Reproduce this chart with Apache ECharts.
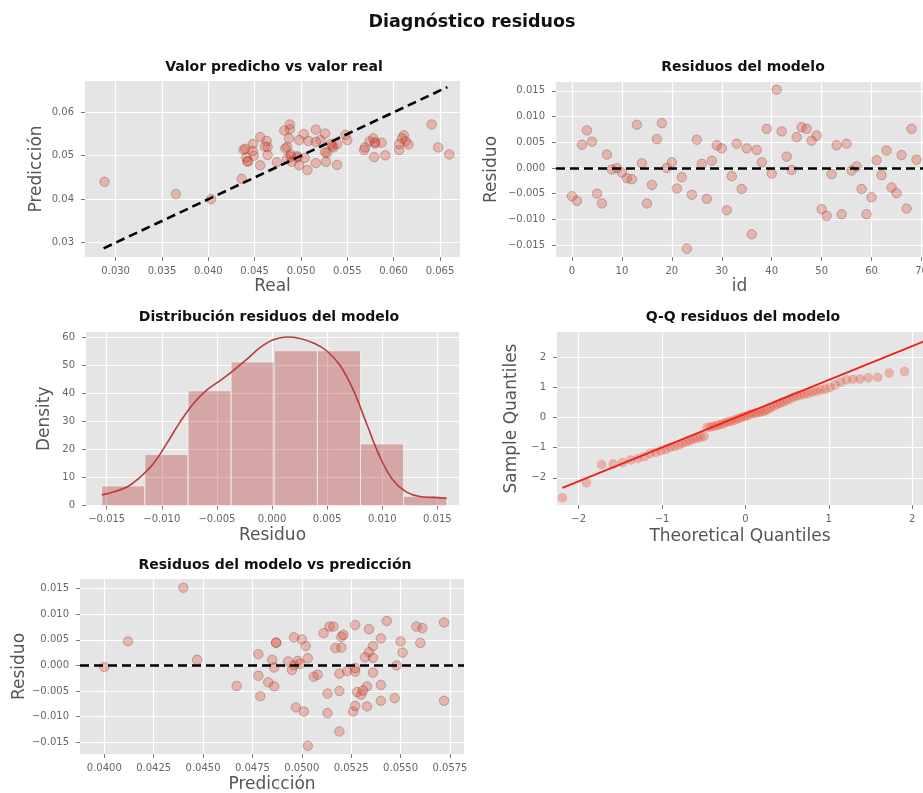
<!DOCTYPE html>
<html><head><meta charset="utf-8">
<script src="https://cdn.jsdelivr.net/npm/echarts@6/dist/echarts.min.js"></script>
<style>html,body{margin:0;padding:0;background:#fff}#c{width:923px;height:793px}</style>
</head><body><div id="c"></div>
<script>
// ---- data ----
const prediccion = [0.0513,0.0547,0.0487,0.0561,0.0500,0.0519,0.0540,0.0534,0.0400,0.0496,
 0.0495,0.0478,0.0506,0.0572,0.0498,0.0572,0.0483,0.0520,0.0543,0.0548,
 0.0447,0.0467,0.0508,0.0503,0.0528,0.0496,0.0493,0.0479,0.0503,0.0487,
 0.0502,0.0497,0.0519,0.0550,0.0486,0.0536,0.0519,0.0520,0.0485,0.0514,
 0.0523,0.0440,0.0534,0.0478,0.0486,0.0521,0.0527,0.0516,0.0540,0.0511,
 0.0533,0.0513,0.0527,0.0560,0.0526,0.0412,0.0527,0.0499,0.0533,0.0501,
 0.0530,0.0536,0.0536,0.0517,0.0540,0.0531,0.0551,0.0527,0.0558,0.0532];
const residuo = [-0.0055,-0.0064,0.0045,0.0073,0.0051,-0.0050,-0.0069,0.0026,-0.0003,0.0000,
 -0.0009,-0.0020,-0.0022,0.0084,0.0009,-0.0069,-0.0033,0.0056,0.0087,0.0000,
 0.0011,-0.0040,-0.0018,-0.0157,-0.0052,0.0055,0.0008,-0.0060,0.0014,0.0044,
 0.0038,-0.0082,-0.0016,0.0047,-0.0041,0.0038,-0.0129,0.0035,0.0011,0.0076,
 -0.0011,0.0152,0.0071,0.0022,-0.0004,0.0060,0.0079,0.0076,0.0053,0.0063,
 -0.0080,-0.0093,-0.0012,0.0044,-0.0090,0.0047,-0.0005,0.0003,-0.0041,-0.0090,
 -0.0057,0.0015,-0.0014,0.0034,-0.0038,-0.0049,0.0025,-0.0079,0.0076,0.0016];
const real = [0.0568,0.0611,0.0442,0.0488,0.0449,0.0569,0.0609,0.0508,0.0403,0.0496,
 0.0504,0.0498,0.0528,0.0488,0.0489,0.0641,0.0516,0.0464,0.0456,0.0548,
 0.0436,0.0507,0.0526,0.0660,0.0580,0.0441,0.0485,0.0539,0.0489,0.0443,
 0.0464,0.0579,0.0535,0.0503,0.0527,0.0498,0.0648,0.0485,0.0474,0.0438,
 0.0534,0.0288,0.0463,0.0456,0.0490,0.0461,0.0448,0.0440,0.0487,0.0448,
 0.0613,0.0606,0.0539,0.0516,0.0616,0.0365,0.0532,0.0496,0.0574,0.0591,
 0.0587,0.0521,0.0550,0.0483,0.0578,0.0580,0.0526,0.0606,0.0482,0.0516];
const identidad = [0.0287, 0.0658];

const histBordes = [-0.01545,-0.01154,-0.00762,-0.00371,0.00020,0.00412,0.00803,0.01194,0.01586];
const histDensidad = [7.0,18.2,41.0,51.3,55.3,55.3,22.0,3.3];
const kdeX = [-0.01545,-0.0144,-0.01318,-0.01198,-0.01077,-0.00956,-0.00835,-0.00714,-0.00593,-0.00472,-0.00351,-0.0023,-0.00109,0.00012,0.00133,0.00254,0.00375,0.00496,0.00617,0.00738,0.00859,0.0098,0.01101,0.01222,0.01343,0.01463,0.01585];
const kdeY = [3.8,4.8,6.6,10.1,14.9,22.1,29.8,36.4,41.2,44.6,48.2,52.2,56.4,59.2,60.2,59.7,58.1,55.3,50.1,41.2,29.2,17.3,8.9,4.8,3.2,2.9,2.6];

const qqTeorico = [-2.195,-1.908,-1.725,-1.586,-1.473,-1.375,-1.290,-1.212,-1.142,-1.077,
 -1.016,-0.958,-0.904,-0.852,-0.802,-0.754,-0.708,-0.663,-0.620,-0.578,
 -0.537,-0.496,-0.457,-0.418,-0.380,-0.342,-0.305,-0.268,-0.232,-0.195,
 -0.160,-0.124,-0.088,-0.053,-0.018,0.018,0.053,0.088,0.124,0.160,
 0.195,0.232,0.268,0.305,0.342,0.380,0.418,0.457,0.496,0.537,
 0.578,0.620,0.663,0.708,0.754,0.802,0.852,0.904,0.958,1.016,
 1.077,1.142,1.212,1.290,1.375,1.473,1.586,1.725,1.908,2.195];
const qqMuestra = [-2.66,-2.16,-1.56,-1.54,-1.49,-1.41,-1.36,-1.30,-1.19,-1.15,
 -1.10,-1.05,-0.99,-0.95,-0.91,-0.86,-0.81,-0.77,-0.71,-0.68,
 -0.65,-0.62,-0.33,-0.31,-0.29,-0.27,-0.23,-0.21,-0.16,-0.13,
 -0.11,-0.08,-0.04,0.00,0.03,0.06,0.10,0.13,0.15,0.17,
 0.19,0.22,0.27,0.33,0.38,0.44,0.48,0.52,0.57,0.62,
 0.68,0.72,0.75,0.78,0.80,0.85,0.88,0.92,0.95,1.00,
 1.08,1.18,1.25,1.27,1.28,1.32,1.34,1.48,1.53,1.60];
const qqLineaX = [-2.195, 2.195];
const qqLineaY = [-2.33, 2.59];

// tick values
const ticksP1x = [0.030,0.035,0.040,0.045,0.050,0.055,0.060,0.065];
const ticksP1y = [0.03,0.04,0.05,0.06];
const ticksP2x = [0,10,20,30,40,50,60,70];
const ticksRes = [-0.015,-0.010,-0.005,0,0.005,0.010,0.015];
const ticksP3y = [0,10,20,30,40,50,60];
const ticksQQ = [-2,-1,0,1,2];
const ticksP5x = [0.0400,0.0425,0.0450,0.0475,0.0500,0.0525,0.0550,0.0575];

// ---- chart ----
const F = 'DejaVu Sans';
function fmt(v, d){ if (Math.abs(v) < 1e-12) v = 0; return v.toFixed(d).replace('-', '\u2212'); }
function ax(gi, min, max, ticks, dec, name, gap, isY){
  return {
    type:'value', gridIndex:gi, min:min, max:max,
    name:name, nameLocation:'middle', nameGap:gap,
    nameTextStyle:{fontSize:17, color:'#555', fontFamily:F},
    axisLine:{show:false, onZero:false},
    axisTick:{show:true, customValues:ticks, length:4, lineStyle:{color:'#777', width:1}},
    axisLabel:{customValues:ticks, formatter:v=>fmt(v,dec), fontSize:10, color:'#666', margin:isY?11:9, fontFamily:F},
    splitLine:{show:true, lineStyle:{color:'#ffffff', width:1.2}}
  };
}
const ptStyle = {color:'rgba(226,74,51,0.4)', borderColor:'rgba(70,20,10,0.4)', borderWidth:0.8};
const dash = {color:'#000', width:2.6, type:[9,5]};

const grids = [
  {left:85, top:81, width:375, height:176},
  {left:556, top:82, width:367, height:175},
  {left:86, top:332, width:373, height:173.5},
  {left:557, top:332, width:366, height:173},
  {left:80, top:579, width:384, height:175}
];
const xAxes = [
  ax(0, 0.02669, 0.06716, ticksP1x, 3, 'Real', 21),
  ax(1, -3.2, 70.3, ticksP2x, 0, 'id', 21),
  ax(2, -0.01688, 0.01697, ticksRes, 3, 'Residuo', 22),
  ax(3, -2.26, 2.13, ticksQQ, 0, 'Theoretical Quantiles', 23),
  ax(4, 0.03877, 0.05821, ticksP5x, 4, 'Predicción', 22)
];
const yAxes = [
  ax(0, 0.0267, 0.0672, ticksP1y, 2, 'Predicción', 40, true),
  ax(1, -0.0173, 0.0167, ticksRes, 3, 'Residuo', 56, true),
  ax(2, 0, 62.0, ticksP3y, 0, 'Density', 33, true),
  ax(3, -2.90, 2.84, ticksQQ, 0, 'Sample Quantiles', 37, true),
  ax(4, -0.0173, 0.0169, ticksRes, 3, 'Residuo', 50, true)
];

const zeroLine = {silent:true, symbol:'none', label:{show:false}, lineStyle:dash, data:[{yAxis:0}]};

const series = [
  {type:'scatter', xAxisIndex:0, yAxisIndex:0, symbolSize:9.5, itemStyle:ptStyle,
   data: real.map((r,i)=>[r, prediccion[i]])},
  {type:'line', xAxisIndex:0, yAxisIndex:0, symbol:'none', lineStyle:dash,
   data: [[identidad[0], identidad[0]], [identidad[1], identidad[1]]]},
  {type:'scatter', xAxisIndex:1, yAxisIndex:1, symbolSize:9.5, itemStyle:ptStyle,
   data: residuo.map((r,i)=>[i, r]), markLine: zeroLine},
  {type:'custom', xAxisIndex:2, yAxisIndex:2,
   data: histDensidad.map((d,i)=>[histBordes[i], histBordes[i+1], d]),
   renderItem: function(params, api){
     const p0 = api.coord([api.value(0), 0]);
     const p1 = api.coord([api.value(1), api.value(2)]);
     return {type:'rect', shape:{x:p0[0], y:p1[1], width:p1[0]-p0[0], height:p0[1]-p1[1]},
       style:{fill:'rgba(178,34,34,0.32)', stroke:'#f2f2f2', lineWidth:0.8}};
   }},
  {type:'line', xAxisIndex:2, yAxisIndex:2, symbol:'none', smooth:0.4,
   lineStyle:{color:'#b83c3c', width:1.6}, data: kdeX.map((x,i)=>[x, kdeY[i]])},
  {type:'scatter', xAxisIndex:3, yAxisIndex:3, symbolSize:9,
   itemStyle:{color:'rgba(226,74,51,0.4)', borderColor:'rgba(226,74,51,0.3)', borderWidth:0.6},
   data: qqTeorico.map((x,i)=>[x, qqMuestra[i]])},
  {type:'line', xAxisIndex:3, yAxisIndex:3, symbol:'none', lineStyle:{color:'#f0201a', width:2},
   data: qqLineaX.map((x,i)=>[x, qqLineaY[i]])},
  {type:'scatter', xAxisIndex:4, yAxisIndex:4, symbolSize:9.5, itemStyle:ptStyle,
   data: prediccion.map((p,i)=>[p, residuo[i]]), markLine: zeroLine}
];

function txt(t, x, y, size){
  return {type:'text', x:x, y:y, silent:true,
    style:{text:t, font:'bold '+size+'px "'+F+'"', fill:'#111', textAlign:'center', textVerticalAlign:'middle'}};
}
const graphic = [
  txt('Diagnóstico residuos', 472, 22, 17.5),
  txt('Valor predicho vs valor real', 274, 67, 14),
  txt('Residuos del modelo', 743, 67, 14),
  txt('Distribución residuos del modelo', 269, 317, 14),
  txt('Q-Q residuos del modelo', 743, 317, 14),
  txt('Residuos del modelo vs predicción', 275, 565, 14)
];

const chart = echarts.init(document.getElementById('c'), null, {renderer:'canvas'});
chart.setOption({
  animation:false,
  backgroundColor:'#ffffff',
  textStyle:{fontFamily:F},
  grid: grids.map(g=>Object.assign({backgroundColor:'#e5e5e5', show:true, borderWidth:0, outerBoundsMode:'none', containLabel:false}, g)),
  xAxis: xAxes, yAxis: yAxes, series: series, graphic: graphic
});
</script></body></html>
